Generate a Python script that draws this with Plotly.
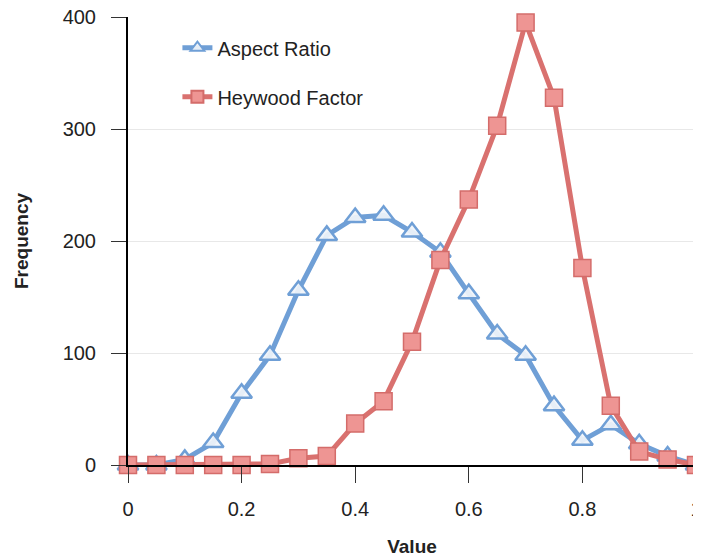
import plotly.graph_objects as go

x_values = [0, 0.05, 0.1, 0.15, 0.2, 0.25, 0.3, 0.35, 0.4, 0.45, 0.5,
            0.55, 0.6, 0.65, 0.7, 0.75, 0.8, 0.85, 0.9, 0.95, 1.0]
aspect_ratio = [0, 0, 5, 20, 64, 98, 156, 205, 221, 223, 208,
                190, 153, 117, 98, 53, 22, 36, 19, 8, 0]
heywood_factor = [0, 0, 0, 0, 0, 1, 6, 8, 37, 57, 110,
                  183, 237, 303, 395, 328, 176, 53, 12, 5, 0]
x_ticks = [0, 0.2, 0.4, 0.6, 0.8, 1]
x_tick_labels = ["0", "0.2", "0.4", "0.6", "0.8", "1"]
y_ticks = [0, 100, 200, 300, 400]

blue = "#6f9fd6"
red = "#d9716f"

fig = go.Figure()
fig.add_trace(go.Scatter(
    x=x_values, y=aspect_ratio, name="Aspect Ratio", mode="lines+markers",
    legendgroup="a",
    line=dict(color=blue, width=5),
    marker=dict(symbol="triangle-up", size=18, color="rgba(240,244,250,0.92)",
                line=dict(color=blue, width=2.5)),
    cliponaxis=False,
))
fig.add_trace(go.Scatter(
    x=x_values, y=heywood_factor, name="Heywood Factor", mode="lines+markers",
    legendgroup="b",
    line=dict(color=red, width=5),
    marker=dict(symbol="square", size=17, color="#ee9593",
                line=dict(color="#d46c6a", width=1.5)),
    cliponaxis=False,
))

fig.update_layout(
    width=701, height=560,
    margin=dict(l=120, r=13, t=9, b=103),
    paper_bgcolor="white", plot_bgcolor="white",
    font=dict(family="Liberation Sans, Arial, sans-serif", size=20, color="#222"),
    showlegend=True,
    legend=dict(x=0.087, y=0.975, xanchor="left", yanchor="top",
                bgcolor="rgba(0,0,0,0)", font=dict(size=20),
                itemsizing="constant", traceorder="grouped", tracegroupgap=20),
    xaxis=dict(
        range=[0, 1], tickvals=x_ticks, ticktext=x_tick_labels, automargin=False,
        showgrid=False, zeroline=False, showline=True, linecolor="black", linewidth=2,
        ticks="outside", ticklen=16, tickcolor="#333", tickwidth=1,
        ticklabelstandoff=9, ticklabeloverflow="allow",
        title=dict(text="<b>Value</b>", font=dict(size=19), standoff=21),
    ),
    yaxis=dict(
        range=[0, 400], tickvals=y_ticks, automargin=False,
        showgrid=True, gridcolor="#e8e8e8", gridwidth=1, zeroline=False,
        showline=True, linecolor="black", linewidth=2,
        ticks="outside", ticklen=15, tickcolor="#333", tickwidth=1,
        ticklabelstandoff=11, ticklabeloverflow="allow",
        title=dict(text="<b>Frequency</b>", font=dict(size=19), standoff=29),
    ),
)

fig.write_html("out.html")
